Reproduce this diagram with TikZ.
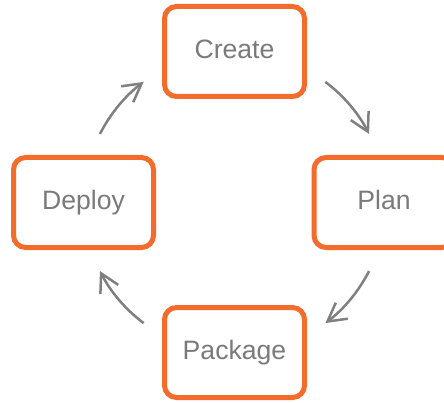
\documentclass[tikz,border=0pt]{standalone}
\usepackage{fontspec}
\setmainfont{Liberation Sans}
\usetikzlibrary{arrows.meta}
\definecolor{stageorange}{RGB}{243,108,44}
\definecolor{stagegray}{RGB}{122,122,122}
\definecolor{arrowgray}{RGB}{128,128,128}

\begin{document}
\begin{tikzpicture}[x=0.5pt,y=0.5pt,
    stage/.style={draw=stageorange, line width=2.5pt, fill=white, rounded corners=6pt,
        minimum width=70pt, minimum height=45pt, text=stagegray,
        text height=9.6pt, text depth=2.8pt,
        font=\fontsize{13.3}{16}\selectfont},
    cyclearrow/.style={draw=arrowgray, line width=1.25pt,
        -{Straight Barb[length=9pt,width=10pt]}}]
    % Canvas
    \useasboundingbox (0,0) rectangle (444,402);
    \clip (0,0) rectangle (444,402);
    \fill[white] (0,0) rectangle (444,402);

    % Centre of the cycle
    \coordinate (hub) at (234.5,199.5);

    % Stages
    \node[stage] (create) at (234.5,350.5) {Create};
    \node[stage] (plan) at (384,199.5) {Plan};
    \node[stage] (package) at (234.5,49.5) {Package};
    \node[stage] (deploy) at (83.5,199.5) {Deploy};

    % Arrows on the ring (clockwise)
    \coordinate (deploy-out) at ([shift={(153:151)}]hub);
    \coordinate (create-out) at ([shift={(53:151)}]hub);
    \coordinate (plan-out) at ([shift={(-27:151)}]hub);
    \coordinate (package-out) at ([shift={(-127:151)}]hub);
    \draw[cyclearrow] (deploy-out) arc[start angle=153, end angle=127, radius=151];
    \draw[cyclearrow] (create-out) arc[start angle=53, end angle=27, radius=151];
    \draw[cyclearrow] (plan-out) arc[start angle=-27, end angle=-53, radius=151];
    \draw[cyclearrow] (package-out) arc[start angle=-127, end angle=-153, radius=151];
\end{tikzpicture}
\end{document}
